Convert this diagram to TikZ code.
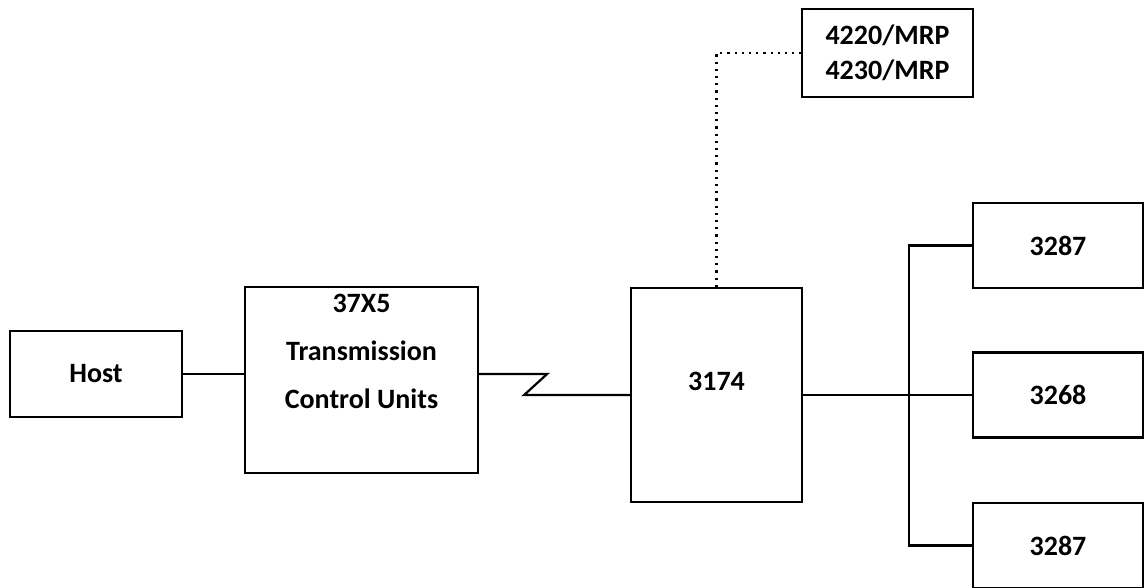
\documentclass[tikz,border=0pt]{standalone}
\usepackage{fontspec}
\setmainfont{Carlito}
\begin{document}
\begin{tikzpicture}[x=1pt,y=-1pt,
  every node/.style={font=\bfseries\fontsize{28}{48}\selectfont},
  box/.style={draw=black,line width=2.2pt,rectangle,inner sep=0pt},
  wire/.style={draw=black,line width=2.2pt},
  dotline/.style={draw=black,line width=2.4pt,dash pattern=on 2.2pt off 5pt}]
\useasboundingbox (0,0) rectangle (1148,587);
\node[box,minimum width=172pt,minimum height=86pt] (host) at (96,374) {Host};
\node[box,minimum width=233pt,minimum height=186pt] (tcu) at (361.5,380) {};
\node[align=center,font=\bfseries\fontsize{28}{48}\selectfont] (tcutext) at (361.5,351) {37X5\\Transmission\\Control Units};
\node[box,minimum width=171pt,minimum height=214pt] (cu) at (716.5,395) {};
\node (cutext) at (716.5,381) {3174};
\node[box,minimum width=171pt,minimum height=88pt,align=center,font=\bfseries\fontsize{28}{35}\selectfont] (mrp) at (887.5,53) {4220/MRP\\4230/MRP};
\node[box,minimum width=170pt,minimum height=85pt] (ta) at (1058,245.5) {3287};
\node[box,minimum width=170pt,minimum height=85pt] (tb) at (1058,395) {3268};
\node[box,minimum width=170pt,minimum height=85pt] (tc) at (1058,545.5) {3287};
\coordinate (bus) at (909,0);
\draw[wire] (host.east) -- (host.east -| tcu.west);
\draw[wire] (host.east -| tcu.east) -- ++(68,0) -- ++(-23,21) -- (cu.west);
\draw[wire] (cu.east) -- (tb.west);
\draw[wire] (ta.west) -- (ta.west -| bus) -- (tc.west -| bus) -- (tc.west);
\draw[dotline] (cu.north) |- (mrp.west);
\end{tikzpicture}
\end{document}
